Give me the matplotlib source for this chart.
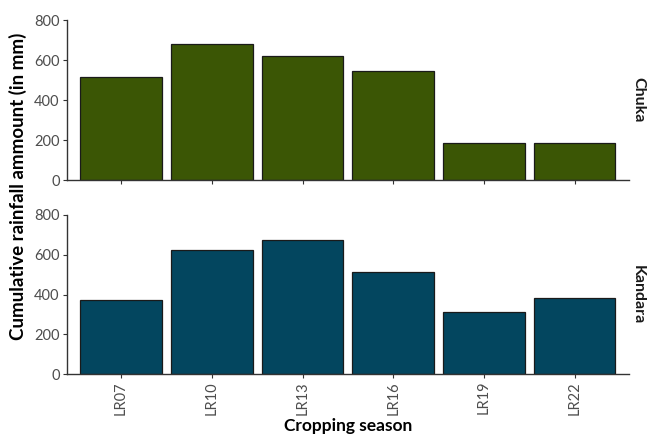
import matplotlib.pyplot as plt

# Cumulative rainfall per cropping season at the two sites
seasons = ["LR07", "LR10", "LR13", "LR16", "LR19", "LR22"]
chuka = [515, 682, 618, 543, 185, 187]
kandara = [371, 622, 674, 515, 310, 382]
sites = ["Chuka", "Kandara"]
colors = ["#3b5605", "#03465f"]

plt.rcParams["font.family"] = ["Lato", "DejaVu Sans"]

fig = plt.figure(figsize=(6.48, 4.38), dpi=100)
W, H = 648, 438
panels = [(20, 180), (215, 374)]
x0, x1 = 66.7, 629

axes = []
for (top, bottom), site, vals, col in zip(panels, sites, [chuka, kandara], colors):
    ax = fig.add_axes([x0 / W, 1 - bottom / H, (x1 - x0) / W, (bottom - top) / H])
    ax.bar(range(len(seasons)), vals, width=0.9, color=col,
           edgecolor="#1a1a1a", linewidth=0.9)
    ax.set_xlim(-0.6, len(seasons) - 0.4)
    ax.set_ylim(0, 800)
    ax.set_yticks([0, 200, 400, 600, 800])
    ax.set_xticks(range(len(seasons)))
    for s in ["top", "right"]:
        ax.spines[s].set_visible(False)
    for s in ["left", "bottom"]:
        ax.spines[s].set_color("#333333")
        ax.spines[s].set_linewidth(1.0)
    ax.tick_params(colors="#333333", labelcolor="#4d4d4d", labelsize=10.5,
                   length=3, width=0.8, pad=2)
    # facet strip label on the right
    ax.text(1.0 + 9 / (x1 - x0), 0.5, site, transform=ax.transAxes,
            rotation=-90, ha="center", va="center", fontsize=11.5,
            fontweight="bold", color="#1a1a1a")
    axes.append(ax)

axes[0].set_xticklabels([])
axes[1].set_xticklabels(seasons, rotation=90)

fig.text(18 / W, 1 - 186 / H, "Cumulative rainfall ammount (in mm)",
         rotation=90, ha="center", va="center", fontsize=13.5,
         fontweight="bold", color="black")
fig.text((x0 + x1) / 2 / W, 1 - 426 / H, "Cropping season",
         ha="center", va="center", fontsize=12.5, fontweight="bold",
         color="black")

fig.savefig("out.png", dpi=100)
